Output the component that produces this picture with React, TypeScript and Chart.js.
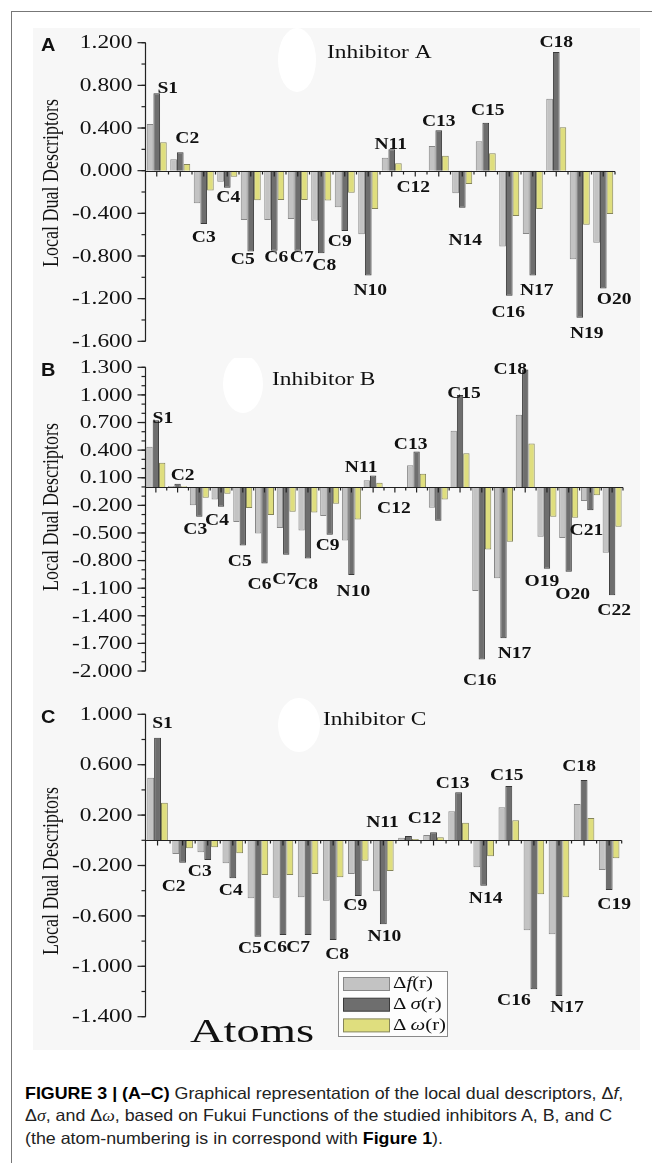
import React, { useEffect, useRef } from "react";
import { Chart, registerables } from "chart.js";
Chart.register(...registerables);

// ---------------- DATA ----------------
const atomsA = ["S1","C2","C3","C4","C5","C6","C7","C8","C9","N10","N11","C12","C13","N14","C15","C16","N17","C18","N19","O20"];
const dfA = [0.437, 0.107, -0.306, -0.103, -0.462, -0.462, -0.453, -0.470, -0.344, -0.597, 0.122, 0, 0.231, -0.212, 0.275, -0.712, -0.594, 0.675, -0.831, -0.675];
const dsA = [0.725, 0.172, -0.500, -0.159, -0.759, -0.750, -0.750, -0.775, -0.566, -0.984, 0.200, 0, 0.378, -0.347, 0.450, -1.174, -0.984, 1.112, -1.378, -1.106];
const dwA = [0.266, 0.063, -0.187, -0.056, -0.278, -0.275, -0.275, -0.280, -0.206, -0.359, 0.069, 0, 0.141, -0.125, 0.163, -0.425, -0.359, 0.406, -0.506, -0.406];
const ticksA = [1.2, 0.8, 0.4, 0, -0.4, -0.8, -1.2, -1.6];

const atomsB = ["S1","C2","C3","C4","C5","C6","C7","C8","C9","N10","N11","C12","C13","N14","C15","C16","N17","C18","O19","O20","C21","C22"];
const dfB = [0.437, 0.010, -0.198, -0.136, -0.382, -0.505, -0.447, -0.473, -0.317, -0.582, 0.074, 0, 0.237, -0.226, 0.611, -1.132, -0.991, 0.785, -0.541, -0.556, -0.154, -0.716];
const dsB = [0.726, 0.035, -0.324, -0.215, -0.636, -0.832, -0.737, -0.777, -0.520, -0.958, 0.125, 0, 0.386, -0.368, 0.998, -1.875, -1.643, 1.277, -0.889, -0.922, -0.252, -1.176];
const dwB = [0.263, 0.008, -0.118, -0.074, -0.230, -0.306, -0.270, -0.277, -0.183, -0.353, 0.045, 0, 0.143, -0.136, 0.367, -0.679, -0.596, 0.473, -0.324, -0.335, -0.089, -0.433];
const ticksB = [1.3, 1.0, 0.7, 0.4, 0.1, -0.2, -0.5, -0.8, -1.1, -1.4, -1.7, -2.0];

const atomsC = ["S1","C2","C3","C4","C5","C6","C7","C8","C9","N10","N11","C12","C13","N14","C15","C16","N17","C18","C19"];
const dfC = [0.497, -0.109, -0.095, -0.183, -0.460, -0.455, -0.452, -0.479, -0.267, -0.405, 0.021, 0.042, 0.230, -0.214, 0.262, -0.714, -0.746, 0.288, -0.236];
const dsC = [0.814, -0.178, -0.156, -0.302, -0.765, -0.752, -0.752, -0.791, -0.442, -0.667, 0.034, 0.063, 0.381, -0.360, 0.431, -1.183, -1.236, 0.479, -0.394];
const dwC = [0.298, -0.063, -0.056, -0.103, -0.275, -0.275, -0.267, -0.294, -0.162, -0.244, 0.010, 0.024, 0.140, -0.127, 0.159, -0.429, -0.452, 0.177, -0.143];
const ticksC = [1.0, 0.6, 0.2, -0.2, -0.6, -1.0, -1.4];

// which atoms carry a label in each panel
const labelledB = atomsB.filter((a) => a !== "N14");

// ---------------- LAYOUT / STYLE ----------------
const labelOffA: number[][] = [[11,-5],[7,-14],[0,14],[1,10],[-8,8],[2,7],[4,7],[3,12],[-5,11],[2,15],[-1,-5],[-2,17],[0,-9],[3,33],[2,-12],[-1,17],[4,15],[0,-9],[7,16],[11,11]];
const labelOffB: number[][] = [[7,-2],[5,-8],[-4,13],[-4,14],[-3,16],[-5,21],[-2,25],[-2,26],[-2,11],[2,17],[-12,-8],[-1,22],[-6,-7],[0,0],[4,-1],[-2,21],[11,15],[-15,0],[-5,13],[4,23],[-4,20],[2,15]];
const labelOffC: number[][] = [[5,-14],[-9,24],[-8,12],[-2,12],[-8,12],[-8,13],[-10,13],[4,15],[-3,10],[1,12],[-26,-13],[-9,-14],[-6,-9],[2,13],[-2,-10],[-20,11],[8,12],[-5,-13],[5,15]];

const COLORS = {
  f: { bg: "#c3c3c3", border: "#878787" },
  s: { bg: "#6e6e6e", border: "#3a3a3a" },
  w: { bg: "#dfde7e", border: "#85855a" },
};

const SERIF = '"Liberation Serif", "Times New Roman", serif';

type PanelCfg = {
  key: string;
  letter: string;
  title: string;
  titleX: number;
  titleY: number;
  atoms: string[];
  df: number[];
  ds: number[];
  dw: number[];
  ticks: number[];
  minor: number;
  labelled: string[];
  offs: number[][];
  top: number;
  height: number;
  pad: { top: number; bottom: number; right: number };
  catPct: number;
  yTitleY: number;
  blob: number[];
  legend?: boolean;
};

const panels: PanelCfg[] = [
  {
    key: "A", letter: "A", title: "Inhibitor A", titleX: 327, titleY: 25,
    atoms: atomsA, df: dfA, ds: dsA, dw: dwA, ticks: ticksA, minor: 0.2,
    labelled: atomsA, offs: labelOffA,
    top: 28, height: 330, pad: { top: 14.7, bottom: 16.7, right: 37 }, catPct: 0.85,
    yTitleY: 155, blob: [297, 32, 19, 32],
  },
  {
    key: "B", letter: "B", title: "Inhibitor B", titleX: 272, titleY: 22,
    atoms: atomsB, df: dfB, ds: dsB, dw: dwB, ticks: ticksB, minor: 0.1,
    labelled: labelledB, offs: labelOffB,
    top: 358, height: 337, pad: { top: 9.3, bottom: 24, right: 29 }, catPct: 0.875,
    yTitleY: 149, blob: [243, 26, 20, 29],
  },
  {
    key: "C", letter: "C", title: "Inhibitor C", titleX: 323, titleY: 25,
    atoms: atomsC, df: dfC, ds: dsC, dw: dwC, ticks: ticksC, minor: 0.2,
    labelled: atomsC, offs: labelOffC,
    top: 695, height: 355, pad: { top: 19.3, bottom: 33.3, right: 30.3 }, catPct: 0.82,
    yTitleY: 176, blob: [299, 30, 21, 27], legend: true,
  },
];

function drawText(ctx: CanvasRenderingContext2D, text: string, x: number, y: number, font: string, align: CanvasTextAlign, sx: number, color = "#111") {
  ctx.save();
  ctx.translate(x, y);
  ctx.scale(sx, 1);
  ctx.font = font;
  ctx.fillStyle = color;
  ctx.textAlign = align;
  ctx.textBaseline = "middle";
  ctx.fillText(text, 0, 0);
  ctx.restore();
}

function drawRich(ctx: CanvasRenderingContext2D, segs: { t: string; it?: boolean }[], x: number, y: number, size: number, sx: number) {
  ctx.save();
  ctx.translate(x, y);
  ctx.scale(sx, 1);
  ctx.fillStyle = "#111";
  ctx.textBaseline = "middle";
  ctx.textAlign = "left";
  let cx = 0;
  segs.forEach((s) => {
    ctx.font = (s.it ? "italic " : "") + size + "px " + SERIF;
    ctx.fillText(s.t, cx, 0);
    cx += ctx.measureText(s.t).width;
  });
  ctx.restore();
}

function line(ctx: CanvasRenderingContext2D, x1: number, y1: number, x2: number, y2: number) {
  ctx.beginPath();
  ctx.moveTo(x1, y1);
  ctx.lineTo(x2, y2);
  ctx.stroke();
}

function makePlugin(p: PanelCfg) {
  const yMax = p.ticks[0];
  const yMin = p.ticks[p.ticks.length - 1];
  return {
    id: "deco" + p.key,
    beforeDatasetsDraw(chart: any) {
      const ctx = chart.ctx as CanvasRenderingContext2D;
      const [bx, by, rx, ry] = p.blob;
      ctx.save();
      ctx.fillStyle = "#ffffff";
      ctx.beginPath();
      ctx.ellipse(bx, by, rx, ry, 0, 0, Math.PI * 2);
      ctx.fill();
      ctx.restore();
    },
    afterDatasetsDraw(chart: any) {
      const ctx = chart.ctx as CanvasRenderingContext2D;
      const xs = chart.scales.x;
      const ys = chart.scales.y;
      const ca = chart.chartArea;
      ctx.save();
      ctx.strokeStyle = "#222";
      ctx.lineWidth = 1.2;
      const left = Math.round(ca.left) + 0.5;
      const yTop = ys.getPixelForValue(yMax);
      const yBot = ys.getPixelForValue(yMin);
      line(ctx, left, yTop, left, yBot);
      const y0 = Math.round(ys.getPixelForValue(0)) + 0.5;
      line(ctx, left, y0, ca.right, y0);
      // minor y ticks
      for (let k = 0; ; k++) {
        const v = yMin + k * p.minor;
        if (v > yMax + 1e-9) break;
        const y = ys.getPixelForValue(v);
        line(ctx, left - 4, y, left, y);
      }
      // major y ticks + labels
      p.ticks.forEach((v) => {
        const y = ys.getPixelForValue(v);
        line(ctx, left - 8, y, left, y);
        drawText(ctx, v.toFixed(3), left - 13, y + 1, "18px " + SERIF, "right", 1.3);
      });
      // x ticks
      const n = p.atoms.length;
      const cw = (ca.right - ca.left) / n;
      for (let i = 0; i < n; i++) {
        const x = xs.getPixelForValue(i);
        line(ctx, x, y0, x, y0 + 5);
        const xb = x + cw / 2;
        line(ctx, xb, y0, xb, y0 + 3);
      }
      // atom labels
      p.atoms.forEach((a, i) => {
        if (!p.labelled.includes(a)) return;
        const [dx, dy] = p.offs[i];
        const x = xs.getPixelForValue(i) + dx;
        const y = ys.getPixelForValue(p.ds[i]) + dy;
        drawText(ctx, a, x, y, "bold 17px " + SERIF, "center", 1.15);
      });
      // title & panel letter
      drawText(ctx, p.title, p.titleX, p.titleY, "18px " + SERIF, "left", 1.3);
      drawText(ctx, p.letter, 41, ys.getPixelForValue(yMax) + 3, 'bold 19px "Liberation Sans", Arial, sans-serif', "left", 1.05);
      // y title
      ctx.save();
      ctx.translate(52, p.yTitleY);
      ctx.rotate(-Math.PI / 2);
      ctx.scale(1, 1.3);
      ctx.font = "18px " + SERIF;
      ctx.fillStyle = "#111";
      ctx.textAlign = "center";
      ctx.textBaseline = "middle";
      ctx.fillText("Local Dual Descriptors", 0, 0);
      ctx.restore();

      if (p.legend) {
        // Legend
        const lx = 338, ly = 276, lw = 109, lh = 65;
        ctx.fillStyle = "#fdfdfd";
        ctx.fillRect(lx, ly, lw, lh);
        ctx.strokeStyle = "#8a8a8a";
        ctx.lineWidth = 1;
        ctx.strokeRect(lx + 0.5, ly + 0.5, lw, lh);
        const ds = chart.data.datasets;
        const names = [
          [{ t: "\u0394" }, { t: "f", it: true }, { t: "(r)" }],
          [{ t: "\u0394\u2009" }, { t: "\u03c3", it: true }, { t: "(r)" }],
          [{ t: "\u0394\u2009" }, { t: "\u03c9", it: true }, { t: "(r)" }],
        ];
        ds.forEach((d: any, k: number) => {
          const ry = ly + 6 + k * 20.7;
          ctx.fillStyle = d.backgroundColor;
          ctx.fillRect(343.5, ry + 0.5, 46, 13);
          ctx.strokeStyle = d.borderColor;
          ctx.strokeRect(343.5, ry + 0.5, 46, 13);
          drawRich(ctx, names[k], 393, ry + 7, 16, 1.3);
        });
        // x axis title
        drawText(ctx, "Atoms", 252, 338, "34px " + SERIF, "center", 1.37);
      }
      ctx.restore();
    },
  };
}

function PanelChart({ p }: { p: PanelCfg }) {
  const ref = useRef<HTMLCanvasElement | null>(null);
  useEffect(() => {
    if (!ref.current) return;
    const yMax = p.ticks[0];
    const yMin = p.ticks[p.ticks.length - 1];
    const mk = (label: string, data: number[], c: { bg: string; border: string }) => ({
      label,
      data,
      backgroundColor: c.bg,
      borderColor: c.border,
      borderWidth: 1,
      categoryPercentage: p.catPct,
      barPercentage: 1.0,
    });
    const chart = new Chart(ref.current, {
      type: "bar",
      data: {
        labels: p.atoms,
        datasets: [
          mk("\u0394f(r)", p.df, COLORS.f),
          mk("\u0394\u03c3(r)", p.ds, COLORS.s),
          mk("\u0394\u03c9(r)", p.dw, COLORS.w),
        ],
      },
      options: {
        responsive: false,
        animation: false,
        events: [],
        layout: { padding: { left: 145, right: p.pad.right, top: p.pad.top, bottom: p.pad.bottom } },
        plugins: { legend: { display: false }, tooltip: { enabled: false }, title: { display: false } },
        scales: {
          x: { display: false, offset: true },
          y: { display: false, min: yMin, max: yMax },
        },
      },
      plugins: [makePlugin(p)],
    } as any);
    return () => chart.destroy();
  }, [p]);
  return (
    <canvas
      ref={ref}
      width={652}
      height={p.height}
      style={{ position: "absolute", left: 0, top: p.top, width: 652, height: p.height }}
    />
  );
}

export default function App() {
  const cap: React.CSSProperties = {
    position: "absolute",
    left: 25,
    whiteSpace: "nowrap",
    fontFamily: '"Liberation Sans", Arial, sans-serif',
    fontSize: 16.5,
    color: "#222",
    lineHeight: "20px",
    transform: "scaleX(1.08)",
    transformOrigin: "0 0",
  };
  const gk: React.CSSProperties = { fontFamily: SERIF, fontStyle: "italic" };
  return (
    <div style={{ position: "absolute", left: 0, top: 0, width: 652, height: 1163, background: "#fff", overflow: "hidden" }}>
      <div style={{ position: "absolute", left: 11, top: 11, width: 641, height: 1, background: "#777" }} />
      <div style={{ position: "absolute", left: 11, top: 11, width: 1, height: 1152, background: "#777" }} />
      <div style={{ position: "absolute", left: 33, top: 28, width: 607, height: 1022, background: "#f7f7f7" }} />
      {panels.map((p) => (
        <PanelChart key={p.key} p={p} />
      ))}
      <div style={{ ...cap, top: 1083 }}>
        <b style={{ color: "#000" }}>FIGURE 3 | (A–C)</b> Graphical representation of the local dual descriptors, Δ<i>f</i>,
      </div>
      <div style={{ ...cap, top: 1105 }}>
        Δ<span style={gk}>σ</span>, and Δ<span style={gk}>ω</span>, based on Fukui Functions of the studied inhibitors A, B, and C
      </div>
      <div style={{ ...cap, top: 1128 }}>
        (the atom-numbering is in correspond with <b style={{ color: "#000" }}>Figure 1</b>).
      </div>
    </div>
  );
}
